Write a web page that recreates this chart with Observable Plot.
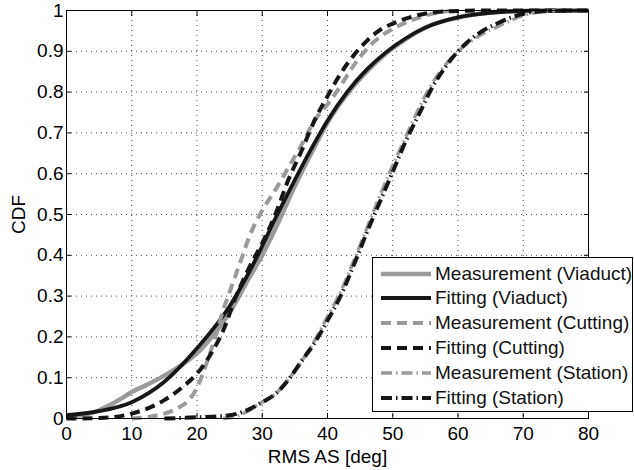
<!DOCTYPE html>
<html><head><meta charset="utf-8">
<script src="https://cdn.jsdelivr.net/npm/d3@7"></script>
<script src="https://cdn.jsdelivr.net/npm/@observablehq/plot@0.6"></script>
<style>
body{margin:0;background:#fff;}
#wrap{position:relative;width:634px;height:470px;font-family:"Liberation Sans",Arial,sans-serif;}
#legend{position:absolute;left:372px;top:257px;width:259px;height:153px;border:1px solid #000;background:#fff;}
.row{position:absolute;left:0;height:25px;display:flex;align-items:center;font-size:19px;color:#111;white-space:nowrap;}
.row svg{margin-left:8px;margin-right:4px;}
</style></head><body><div id="wrap"></div>
<script>
// ---- data ----
const seriesNames = ["Measurement (Viaduct)", "Fitting (Viaduct)", "Measurement (Cutting)", "Fitting (Cutting)", "Measurement (Station)", "Fitting (Station)"];

const measViaduct = [[0,0.005],[3,0.01],[5,0.02],[7,0.036],[9,0.055],[10,0.065],[12,0.08],[15,0.105],[18,0.135],[20,0.16],[22,0.195],[25,0.26],[28,0.345],[30,0.4],[32,0.465],[35,0.57],[38,0.665],[40,0.725],[43,0.795],[46,0.85],[49,0.895],[52,0.93],[55,0.958],[60,0.983],[65,0.995],[70,0.999],[75,1]];
const fitViaduct = [[0,0.008],[5,0.018],[10,0.04],[15,0.09],[20,0.172],[25,0.275],[29,0.39],[32,0.49],[35,0.585],[38,0.675],[40,0.73],[43,0.8],[46,0.855],[49,0.898],[52,0.932],[55,0.958],[60,0.983],[65,0.994],[70,0.999],[80,1]];
const measCutting = [[10,0],[13,0.005],[15,0.012],[17,0.025],[19,0.05],[20,0.075],[21,0.115],[22,0.16],[23,0.21],[24,0.265],[25,0.31],[26,0.355],[27,0.4],[28,0.445],[30,0.51],[32,0.56],[34,0.615],[36,0.67],[38,0.73],[40,0.77],[42,0.815],[44,0.865],[46,0.905],[48,0.935],[50,0.955],[53,0.977],[57,0.995],[60,1]];
const fitCutting = [[0,0],[5,0.001],[10,0.012],[15,0.045],[18,0.08],[20,0.11],[22,0.155],[24,0.215],[26,0.3],[28,0.37],[30,0.43],[32,0.5],[34,0.585],[36,0.655],[38,0.73],[40,0.79],[42,0.845],[44,0.89],[46,0.925],[48,0.952],[50,0.968],[53,0.985],[56,0.995],[60,0.999],[65,1],[80,1]];
const measStation = [[24,0],[26,0.005],[28,0.02],[30,0.04],[32,0.06],[34,0.095],[36,0.14],[38,0.19],[40,0.25],[42,0.31],[44,0.385],[46,0.465],[48,0.545],[50,0.62],[52,0.69],[54,0.76],[56,0.82],[58,0.865],[60,0.9],[62,0.925],[64,0.945],[66,0.96],[68,0.975],[70,0.988],[72,0.995],[75,1]];
const fitStation = [[15,0],[20,0.003],[25,0.008],[27,0.016],[30,0.04],[32,0.06],[34,0.095],[36,0.14],[38,0.185],[40,0.24],[42,0.3],[44,0.375],[46,0.455],[48,0.53],[50,0.605],[52,0.68],[54,0.745],[56,0.81],[58,0.86],[60,0.9],[62,0.93],[64,0.952],[66,0.968],[68,0.982],[70,0.992],[73,0.998],[78,1]];

const xTicks = [0,10,20,30,40,50,60,70,80];
const yTicks = [0,0.1,0.2,0.3,0.4,0.5,0.6,0.7,0.8,0.9,1];
const xLabel = "RMS AS [deg]";
const yLabel = "CDF";

// ---- styles ----
const GREY = "#9a9a9a", BLACK = "#161616";
const seriesData = [measViaduct, fitViaduct, measCutting, fitCutting, measStation, fitStation];
const seriesStyle = [
  {stroke: GREY, width: 4.5, dash: null},
  {stroke: BLACK, width: 3.8, dash: null},
  {stroke: GREY, width: 4, dash: "10,6"},
  {stroke: BLACK, width: 4, dash: "10,6"},
  {stroke: GREY, width: 3.5, dash: "11,4,1.5,4"},
  {stroke: BLACK, width: 4, dash: "11,4,1.5,4"}
];

const lineMarks = seriesData.map((data, i) => Plot.line(data, {
  x: d => d[0], y: d => d[1],
  stroke: seriesStyle[i].stroke,
  strokeWidth: seriesStyle[i].width,
  strokeDasharray: seriesStyle[i].dash,
  strokeLinecap: "butt",
  curve: "monotone-x"
}));

const fmt = d3.format("~g");
const chart = Plot.plot({
  width: 634, height: 470,
  marginLeft: 66, marginRight: 46, marginTop: 10, marginBottom: 52,
  style: {fontFamily: "'Liberation Sans', Arial, sans-serif", fontSize: "19px", color: "#000", background: "#fff", overflow: "visible"},
  x: {domain: [0, 80]},
  y: {domain: [0, 1]},
  marks: [
    Plot.gridX(xTicks, {stroke: "#333", strokeOpacity: 0.9, strokeDasharray: "1,4", strokeWidth: 1}),
    Plot.gridY(yTicks, {stroke: "#333", strokeOpacity: 0.9, strokeDasharray: "1,4", strokeWidth: 1}),
    ...lineMarks,
    Plot.frame({stroke: "#000", strokeWidth: 1}),
    Plot.axisX(xTicks, {anchor: "bottom", tickSize: -5, tickPadding: 13, tickFormat: fmt, label: xLabel, labelAnchor: "center", labelOffset: 44, labelArrow: "none"}),
    Plot.axisX(xTicks, {anchor: "top", tickSize: -5, tickFormat: () => "", label: null}),
    Plot.axisY(yTicks, {anchor: "left", tickSize: -5, tickPadding: 8, tickFormat: fmt, label: yLabel, labelAnchor: "center", labelOffset: 55, labelArrow: "none"}),
    Plot.axisY(yTicks, {anchor: "right", tickSize: -5, tickFormat: () => "", label: null})
  ]
});
const wrap = document.getElementById("wrap");
wrap.appendChild(chart);

// ---- legend ----
const legend = document.createElement("div");
legend.id = "legend";
seriesNames.forEach((name, i) => {
  const row = document.createElement("div");
  row.className = "row";
  row.style.top = (3 + i * 24.8) + "px";
  const s = seriesStyle[i];
  const svg = d3.create("svg").attr("width", 50).attr("height", 12);
  svg.append("line").attr("x1", 0).attr("x2", 50).attr("y1", 6).attr("y2", 6)
    .attr("stroke", s.stroke).attr("stroke-width", s.width)
    .attr("stroke-dasharray", s.dash).attr("stroke-linecap", "butt");
  row.appendChild(svg.node());
  const t = document.createElement("span");
  t.textContent = name;
  row.appendChild(t);
  legend.appendChild(row);
});
wrap.appendChild(legend);
</script>
</body></html>
